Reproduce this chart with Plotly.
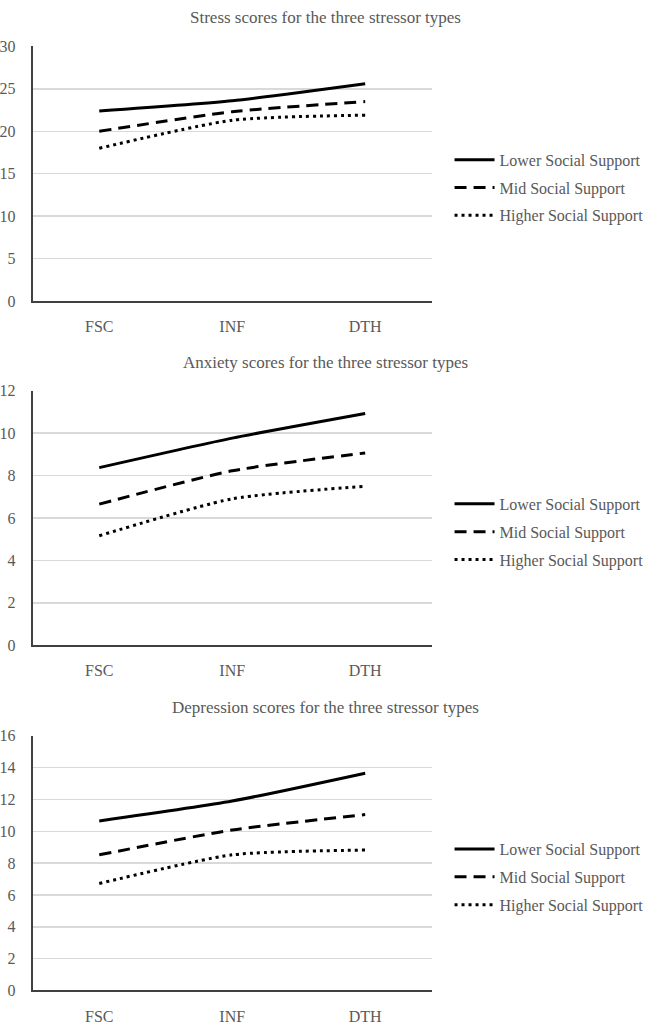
import plotly.graph_objects as go

categories = ["FSC", "INF", "DTH"]
series_names = ["Lower Social Support", "Mid Social Support", "Higher Social Support"]

stress_lower = [22.4, 23.6, 25.6]
stress_mid = [20.0, 22.3, 23.5]
stress_higher = [18.0, 21.3, 21.9]

anxiety_lower = [8.37, 9.76, 10.92]
anxiety_mid = [6.65, 8.22, 9.06]
anxiety_higher = [5.16, 6.9, 7.49]

depression_lower = [10.65, 11.9, 13.65]
depression_mid = [8.52, 10.08, 11.05]
depression_higher = [6.72, 8.52, 8.82]

titles = [
    "Stress scores for the three stressor types",
    "Anxiety scores for the three stressor types",
    "Depression scores for the three stressor types",
]
y_max = [30, 12, 16]
y_dtick = [5, 2, 2]

panels = [
    [stress_lower, stress_mid, stress_higher],
    [anxiety_lower, anxiety_mid, anxiety_higher],
    [depression_lower, depression_mid, depression_higher],
]

W, H = 649, 1028
FONT = "Liberation Serif, Times New Roman, serif"
GREY = "#595959"

plot_px = [(39, 298), (389, 648), (740, 999)]
title_px = [10, 360, 711]
legend_px = [137, 487, 838]
x_left, x_right = 30, 432

dashes = ["solid", "12px,7px", "3px,4px"]

fig = go.Figure()
for i, (vals, (top, bot)) in enumerate(zip(panels, plot_px)):
    xa = "x" if i == 0 else f"x{i+1}"
    ya = "y" if i == 0 else f"y{i+1}"
    lg = "legend" if i == 0 else f"legend{i+1}"
    for j, (name, v) in enumerate(zip(series_names, vals)):
        fig.add_trace(go.Scatter(
            x=categories, y=v, name=name, mode="lines",
            line=dict(color="#000000", width=3, dash=dashes[j], shape="spline", smoothing=0.6),
            xaxis=xa, yaxis=ya, legend=lg, legendgroup=f"g{i}{j}",
        ))
    xkey = "xaxis" if i == 0 else f"xaxis{i+1}"
    ykey = "yaxis" if i == 0 else f"yaxis{i+1}"
    fig.layout[xkey] = dict(
        domain=[x_left / W, x_right / W], anchor=ya, type="category",
        range=[-0.5, 2.5], showline=True, linecolor="#404040", linewidth=2,
        showgrid=False, tickfont=dict(family=FONT, size=16, color=GREY),
        ticks="", ticklabelstandoff=10, fixedrange=True,
    )
    fig.layout[ykey] = dict(
        domain=[1 - bot / H, 1 - top / H], anchor=xa,
        range=[0, y_max[i]], dtick=y_dtick[i], showline=True, linecolor="#404040",
        linewidth=2, showgrid=True, gridcolor="#d9d9d9", gridwidth=1.5,
        zeroline=False, tickfont=dict(family=FONT, size=16, color=GREY),
        ticks="", ticklabelstandoff=12, fixedrange=True,
    )
    fig.layout[lg] = dict(
        x=450 / W, y=1 - legend_px[i] / H, xanchor="left", yanchor="top",
        font=dict(family=FONT, size=16, color=GREY), tracegroupgap=4,
        bgcolor="rgba(0,0,0,0)", itemwidth=40,
    )
    fig.add_annotation(
        text=titles[i], x=0.5, y=1 - title_px[i] / H, xref="paper", yref="paper",
        xanchor="center", yanchor="middle", showarrow=False,
        font=dict(family=FONT, size=17, color=GREY),
    )

fig.update_layout(
    width=W, height=H, margin=dict(l=0, r=0, t=0, b=0),
    paper_bgcolor="white", plot_bgcolor="white", showlegend=True,
)
css_js = (
    "var s=document.createElement('style');"
    "s.innerHTML='html,body{margin:0 !important;padding:0 !important;overflow:hidden;background:#ffffff;}';"
    "document.head.appendChild(s);"
)
fig.write_html("out.html", post_script=css_js, config={"displayModeBar": False, "staticPlot": True})
